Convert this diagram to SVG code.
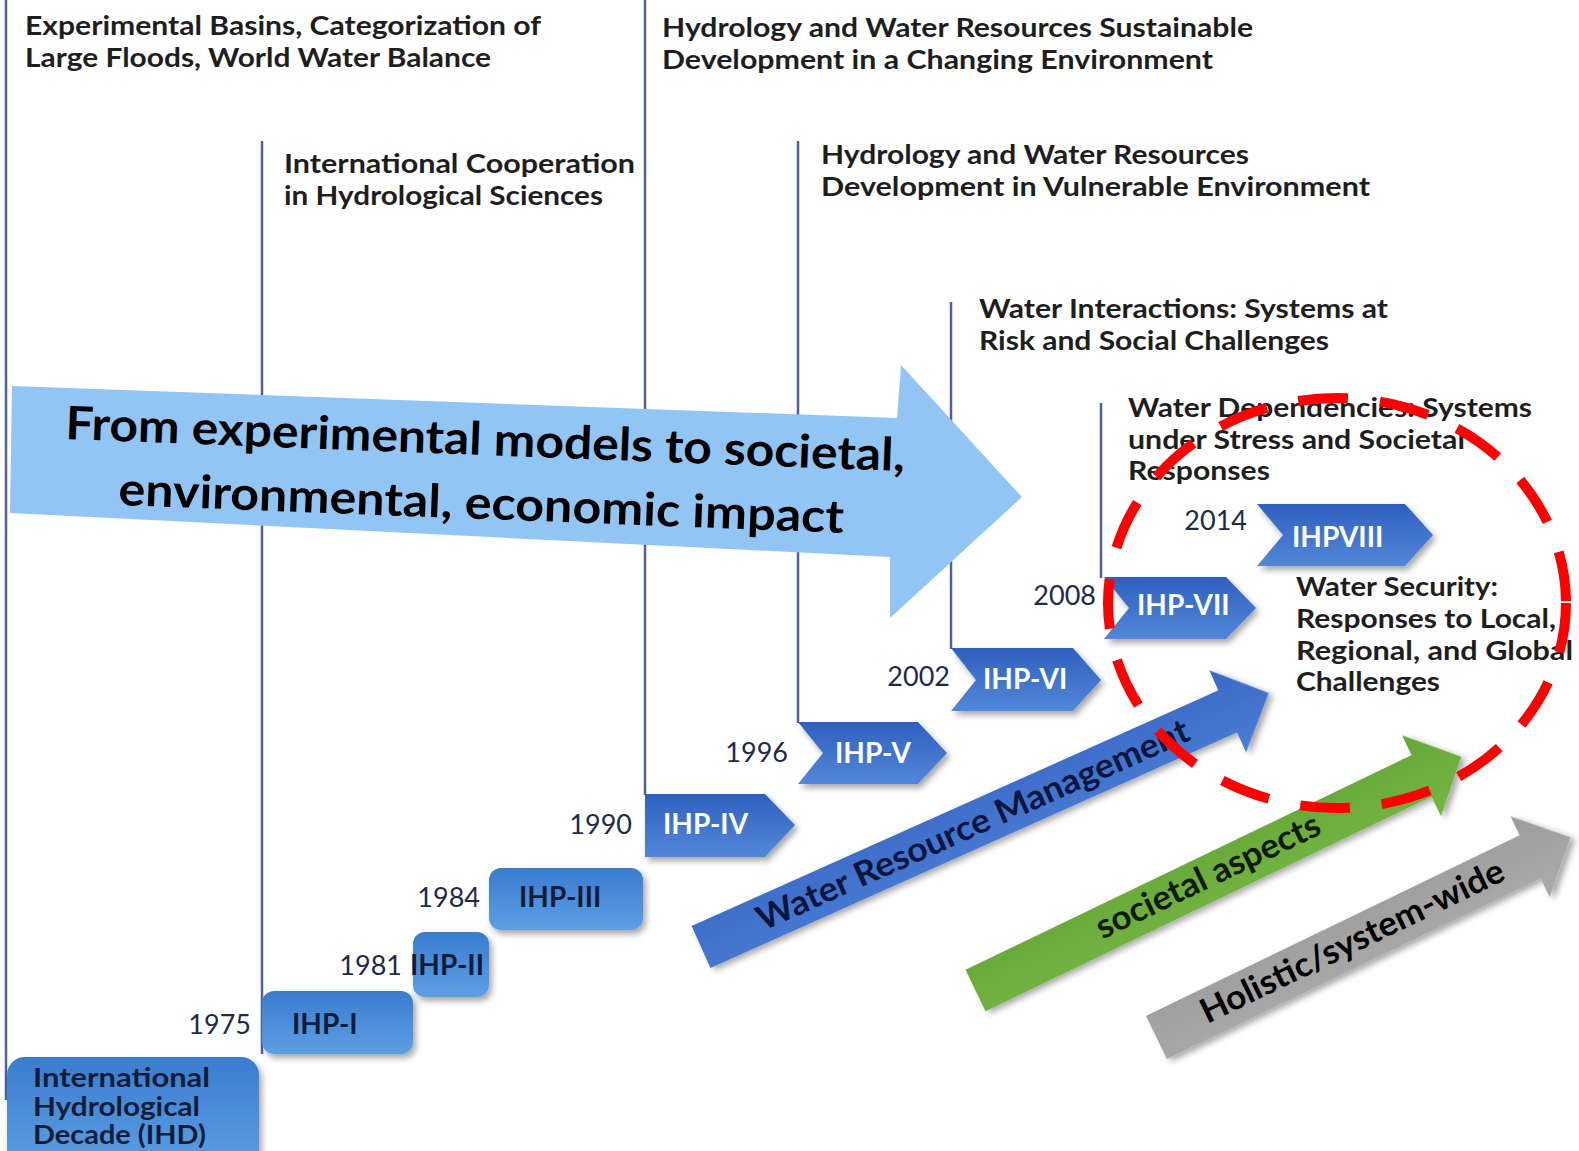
<svg xmlns="http://www.w3.org/2000/svg" width="1579" height="1151" viewBox="0 0 1579 1151">
  <defs>
    <style>
      .phase { font-family: Lato, "Open Sans", "Liberation Sans", sans-serif; font-size: 27px; font-weight: 700; fill: #1e1e1e; }
      .year { font-family: Lato, "Open Sans", "Liberation Sans", sans-serif; font-size: 27px; font-weight: 400; fill: #1f2a45; text-anchor: end; }
      .boxlbl { font-family: Lato, "Open Sans", "Liberation Sans", sans-serif; font-size: 28px; font-weight: 700; fill: #0f1c3a; }
      .ihd { font-family: Lato, "Open Sans", "Liberation Sans", sans-serif; font-size: 27px; font-weight: 700; fill: #0f1c3a; }
      .chevlbl { font-family: Lato, "Open Sans", "Liberation Sans", sans-serif; font-size: 28px; font-weight: 700; fill: #ffffff; }
      .trend { font-family: Lato, "Open Sans", "Liberation Sans", sans-serif; font-size: 34px; font-weight: 700; text-anchor: middle; }
      .big { font-family: Lato, "Open Sans", "Liberation Sans", sans-serif; font-size: 46px; font-weight: 700; fill: #000000; }
      .vline { stroke: #50619e; stroke-width: 2.5; fill: none; }
      .box { fill: url(#boxGrad); filter: url(#shadow); }
      .chev { fill: url(#chevGrad); filter: url(#shadow); }
    </style>
    <linearGradient id="boxGrad" x1="0" y1="0" x2="0" y2="1">
      <stop offset="0" stop-color="#3a7ccf"/>
      <stop offset="1" stop-color="#5d9fe2"/>
    </linearGradient>
    <linearGradient id="chevGrad" x1="0" y1="0" x2="0" y2="1">
      <stop offset="0" stop-color="#2f60c0"/>
      <stop offset="1" stop-color="#5287d8"/>
    </linearGradient>
    <linearGradient id="blueGrad" x1="0" y1="0" x2="0" y2="1">
      <stop offset="0" stop-color="#3a69c6"/>
      <stop offset="1" stop-color="#4a7dd4"/>
    </linearGradient>
    <linearGradient id="greenGrad" x1="0" y1="0" x2="0" y2="1">
      <stop offset="0" stop-color="#66a737"/>
      <stop offset="1" stop-color="#74b544"/>
    </linearGradient>
    <linearGradient id="grayGrad" x1="0" y1="0" x2="0" y2="1">
      <stop offset="0" stop-color="#9c9c9c"/>
      <stop offset="1" stop-color="#ababab"/>
    </linearGradient>
    <filter id="shadow" x="-10%" y="-20%" width="130%" height="160%">
      <feDropShadow dx="3" dy="4" stdDeviation="3" flood-color="#000000" flood-opacity="0.35"/>
    </filter>
  </defs>

  <rect width="1579" height="1151" fill="#ffffff"/>

  <!-- phase timeline rules -->
  <g id="connectors">
    <line class="vline" x1="6" y1="0" x2="6" y2="1100"/>
    <line class="vline" x1="262" y1="141" x2="262" y2="1054"/>
    <line class="vline" x1="645" y1="0" x2="645" y2="795"/>
    <line class="vline" x1="798" y1="141" x2="798" y2="723"/>
    <line class="vline" x1="951" y1="302" x2="951" y2="649"/>
    <line class="vline" x1="1101" y1="403" x2="1101" y2="578"/>
  </g>

  <!-- phase themes -->
  <g id="theme-ihd">
    <text class="phase" x="25" y="35" textLength="516" lengthAdjust="spacingAndGlyphs">Experimental Basins, Categorization of</text>
    <text class="phase" x="25" y="67" textLength="466" lengthAdjust="spacingAndGlyphs">Large Floods, World Water Balance</text>
  </g>
  <g id="theme-ihp1">
    <text class="phase" x="284" y="173" textLength="351" lengthAdjust="spacingAndGlyphs">International Cooperation</text>
    <text class="phase" x="284" y="205" textLength="319" lengthAdjust="spacingAndGlyphs">in Hydrological Sciences</text>
  </g>
  <g id="theme-ihp4">
    <text class="phase" x="662" y="37" textLength="591" lengthAdjust="spacingAndGlyphs">Hydrology and Water Resources Sustainable</text>
    <text class="phase" x="662" y="69" textLength="551" lengthAdjust="spacingAndGlyphs">Development in a Changing Environment</text>
  </g>
  <g id="theme-ihp5">
    <text class="phase" x="821" y="164" textLength="428" lengthAdjust="spacingAndGlyphs">Hydrology and Water Resources</text>
    <text class="phase" x="821" y="196" textLength="549" lengthAdjust="spacingAndGlyphs">Development in Vulnerable Environment</text>
  </g>
  <g id="theme-ihp6">
    <text class="phase" x="979" y="318" textLength="409" lengthAdjust="spacingAndGlyphs">Water Interactions: Systems at</text>
    <text class="phase" x="979" y="350" textLength="350" lengthAdjust="spacingAndGlyphs">Risk and Social Challenges</text>
  </g>
  <g id="theme-ihp7">
    <text class="phase" x="1128" y="417" textLength="404" lengthAdjust="spacingAndGlyphs">Water Dependencies: Systems</text>
    <text class="phase" x="1128" y="449" textLength="337" lengthAdjust="spacingAndGlyphs">under Stress and Societal</text>
    <text class="phase" x="1128" y="480" textLength="142" lengthAdjust="spacingAndGlyphs">Responses</text>
  </g>
  <g id="theme-ihp8">
    <text class="phase" x="1296" y="596" textLength="202" lengthAdjust="spacingAndGlyphs" fill="#000">Water Security:</text>
    <text class="phase" x="1296" y="628" textLength="260" lengthAdjust="spacingAndGlyphs">Responses to Local,</text>
    <text class="phase" x="1296" y="660" textLength="277" lengthAdjust="spacingAndGlyphs">Regional, and Global</text>
    <text class="phase" x="1296" y="691" textLength="144" lengthAdjust="spacingAndGlyphs">Challenges</text>
  </g>

  <!-- programme phases -->
  <g id="node-ihd">
    <rect class="box" x="7" y="1057" width="252" height="112" rx="18"/>
    <text class="ihd" x="33" y="1087" textLength="177" lengthAdjust="spacingAndGlyphs">International</text>
    <text class="ihd" x="33" y="1116" textLength="167" lengthAdjust="spacingAndGlyphs">Hydrological</text>
    <text class="ihd" x="33" y="1144" textLength="173" lengthAdjust="spacingAndGlyphs">Decade (IHD)</text>
  </g>
  <g id="node-ihp1">
    <rect class="box" x="262" y="991" width="151" height="63" rx="12"/>
    <text class="boxlbl" x="292" y="1034">IHP-I</text>
    <text class="year" x="251" y="1034">1975</text>
  </g>
  <g id="node-ihp2">
    <rect class="box" x="413" y="932" width="76" height="65" rx="12"/>
    <text class="boxlbl" x="410" y="975">IHP-II</text>
    <text class="year" x="402" y="975">1981</text>
  </g>
  <g id="node-ihp3">
    <rect class="box" x="489" y="868" width="154" height="62" rx="12"/>
    <text class="boxlbl" x="519" y="907">IHP-III</text>
    <text class="year" x="480" y="907">1984</text>
  </g>
  <g id="node-ihp4">
    <polygon class="chev" points="645,794 765,794 795,825 765,857 645,857"/>
    <text class="chevlbl" x="663" y="834">IHP-IV</text>
    <text class="year" x="632" y="834">1990</text>
  </g>
  <g id="node-ihp5">
    <polygon class="chev" points="798,722 918,722 947,753 918,784 798,784 823,753"/>
    <text class="chevlbl" x="835" y="763">IHP-V</text>
    <text class="year" x="788" y="762">1996</text>
  </g>
  <g id="node-ihp6">
    <polygon class="chev" points="951,648 1073,648 1101,680 1073,711 951,711 976,680"/>
    <text class="chevlbl" x="983" y="689">IHP-VI</text>
    <text class="year" x="950" y="686">2002</text>
  </g>
  <g id="node-ihp7">
    <polygon class="chev" points="1104,577 1226,577 1256,608 1226,639 1104,639 1129,608"/>
    <text class="chevlbl" x="1137" y="615">IHP-VII</text>
    <text class="year" x="1096" y="605">2008</text>
  </g>
  <g id="node-ihp8">
    <polygon class="chev" points="1257,504 1405,504 1433,535 1405,566 1257,566 1283,535"/>
    <text class="chevlbl" x="1292" y="547">IHPVIII</text>
    <text class="year" x="1247" y="530">2014</text>
  </g>

  <!-- trend arrows -->
  <g id="trend-wrm" transform="translate(701 947) rotate(-24.1)">
    <path d="M0,-23 L577,-23 L577,-45 L622,0 L577,45 L577,23 L0,23 Z" fill="url(#blueGrad)" filter="url(#shadow)"/>
    <text class="trend" x="298" y="11" fill="#0b1640" textLength="470" lengthAdjust="spacingAndGlyphs">Water Resource Management</text>
  </g>
  <g id="trend-societal" transform="translate(975.5 990.5) rotate(-25.7)">
    <path d="M0,-23 L495,-23 L495,-45 L539,0 L495,45 L495,23 L0,23 Z" fill="url(#greenGrad)" filter="url(#shadow)"/>
    <text class="trend" x="259" y="9" fill="#0e1a0a" textLength="245" lengthAdjust="spacingAndGlyphs">societal aspects</text>
  </g>
  <g id="trend-holistic" transform="translate(1156.5 1037.5) rotate(-25.8)">
    <path d="M0,-24 L415,-24 L415,-45 L460,0 L415,45 L415,24 L0,24 Z" fill="url(#grayGrad)" filter="url(#shadow)"/>
    <text class="trend" x="218" y="10" fill="#000000" textLength="333" lengthAdjust="spacingAndGlyphs">Holistic/system-wide</text>
  </g>

  <!-- overall direction arrow -->
  <g id="direction-arrow">
    <polygon points="12,386 897,418 901,365 1022,497 890,618 890,557 10,513" fill="#93c5f4"/>
    <text class="big" x="65" y="439" transform="rotate(2.2 65 439)" textLength="840" lengthAdjust="spacingAndGlyphs">From experimental models to societal,</text>
    <text class="big" x="118" y="505" transform="rotate(2.2 118 505)" textLength="726" lengthAdjust="spacingAndGlyphs">environmental, economic impact</text>
  </g>

  <!-- focus ring around the current phase -->
  <g id="focus-ring">
    <ellipse cx="1337" cy="603" rx="229" ry="205" fill="none" stroke="#ff0000" stroke-width="10" stroke-dasharray="50 32"/>
  </g>
</svg>
